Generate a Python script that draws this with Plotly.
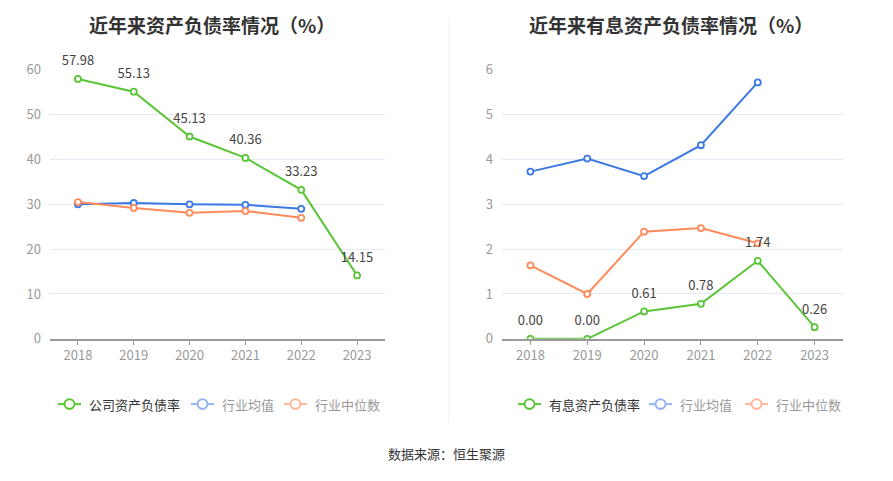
import plotly.graph_objects as go
from plotly.subplots import make_subplots

W, H = 893, 481
FONT = "Noto Sans CJK SC"

years = ["2018", "2019", "2020", "2021", "2022", "2023"]

# left chart: asset-liability ratio
company_ratio = [57.98, 55.13, 45.13, 40.36, 33.23, 14.15]
industry_avg = [30.0, 30.3, 30.0, 29.9, 29.0, None]
industry_median = [30.5, 29.2, 28.1, 28.5, 27.0, None]

# right chart: interest-bearing asset-liability ratio
interest_ratio = [0.00, 0.00, 0.61, 0.78, 1.74, 0.26]
interest_avg = [3.73, 4.02, 3.63, 4.32, 5.72, None]
interest_median = [1.64, 1.00, 2.39, 2.47, 2.13, None]

GREEN = "#5ac536"
BLUE = "#3c78e6"
ORANGE = "#ff8a5b"

# page body has an 8px margin, so shift screen coords back by 8
OFF = 8


def px(x):
    return (x - OFF) / W


def py(y):
    return 1 - (y - OFF) / H


fig = make_subplots(rows=1, cols=2)


def add_line(y, color, col, labels=False):
    fig.add_trace(go.Scatter(
        x=years, y=y, mode="lines+markers",
        line=dict(color=color, width=2),
        marker=dict(size=6, color="white", line=dict(color=color, width=1.8)),
        showlegend=False, hoverinfo="skip",
    ), row=1, col=col)
    if labels:
        # transparent bigger markers just to push the value labels up a bit
        fig.add_trace(go.Scatter(
            x=years, y=y, mode="markers+text",
            marker=dict(size=15, color="rgba(0,0,0,0)"),
            text=[f"{v:.2f}" for v in y], textposition="top center",
            textfont=dict(size=13, color="#444", family=FONT),
            cliponaxis=False, showlegend=False, hoverinfo="skip",
        ), row=1, col=col)


add_line(industry_avg, BLUE, 1)
add_line(industry_median, ORANGE, 1)
add_line(company_ratio, GREEN, 1, labels=True)
add_line(interest_avg, BLUE, 2)
add_line(interest_median, ORANGE, 2)
add_line(interest_ratio, GREEN, 2, labels=True)

ydom = [py(342), py(62)]
xaxis_style = dict(
    type="category", range=[-0.5, 5.5], showgrid=False,
    showline=True, linecolor="#9a9a9a", linewidth=1.5,
    ticks="outside", ticklen=4, tickcolor="#9a9a9a",
    tickfont=dict(size=13, color="#999", family=FONT), fixedrange=True,
)
yaxis_style = dict(
    showgrid=True, gridcolor="#e6eaf2", gridwidth=1, zeroline=False,
    showline=False, ticks="", ticklabelstandoff=8,
    tickfont=dict(size=13, color="#999", family=FONT), fixedrange=True,
)
fig.update_xaxes(domain=[px(50), px(385)], row=1, col=1, **xaxis_style)
fig.update_xaxes(domain=[px(502), px(843)], row=1, col=2, **xaxis_style)
fig.update_yaxes(domain=ydom, range=[0, 60], dtick=10, row=1, col=1, **yaxis_style)
fig.update_yaxes(domain=ydom, range=[0, 6], dtick=1, row=1, col=2, **yaxis_style)

annotations = [
    dict(x=px(212), y=py(15), text="<b>近年来资产负债率情况（%）</b>",
         font=dict(size=19, color="#333", family=FONT)),
    dict(x=px(671), y=py(15), text="<b>近年来有息资产负债率情况（%）</b>",
         font=dict(size=19, color="#333", family=FONT)),
    dict(x=px(446), y=py(461), text="数据来源：恒生聚源",
         font=dict(size=13, color="#333", family=FONT)),
]
shapes = [dict(type="line", xref="paper", yref="paper", x0=px(449), x1=px(449),
               y0=1, y1=py(430), line=dict(color="#eeeeee", width=1))]

# manual legends
legend_items = [
    (58, "公司资产负债率", GREEN, "#333"),
    (191, "行业均值", "#94b3f0", "#999"),
    (284, "行业中位数", "#ffb79c", "#999"),
    (518, "有息资产负债率", GREEN, "#333"),
    (649, "行业均值", "#94b3f0", "#999"),
    (745, "行业中位数", "#ffb79c", "#999"),
]
ly = 410
for x0, label, color, tcolor in legend_items:
    shapes.append(dict(type="line", xref="paper", yref="paper",
                       x0=px(x0), x1=px(x0 + 23), y0=py(ly), y1=py(ly),
                       line=dict(color=color, width=2)))
    shapes.append(dict(type="circle", xref="paper", yref="paper",
                       x0=px(x0 + 6.5), x1=px(x0 + 16.5), y0=py(ly + 5), y1=py(ly - 5),
                       fillcolor="white", line=dict(color=color, width=2)))
    annotations.append(dict(x=px(x0 + 29), y=py(ly), text=label, xanchor="left",
                            font=dict(size=13, color=tcolor, family=FONT)))

for a in annotations:
    a.setdefault("xanchor", "center")
    a.update(xref="paper", yref="paper", yanchor="middle", showarrow=False)

fig.update_layout(
    width=W, height=H, margin=dict(l=0, r=0, t=0, b=0),
    paper_bgcolor="white", plot_bgcolor="white",
    font=dict(family=FONT), showlegend=False,
    annotations=annotations, shapes=shapes,
)

fig.write_html("out.html")
